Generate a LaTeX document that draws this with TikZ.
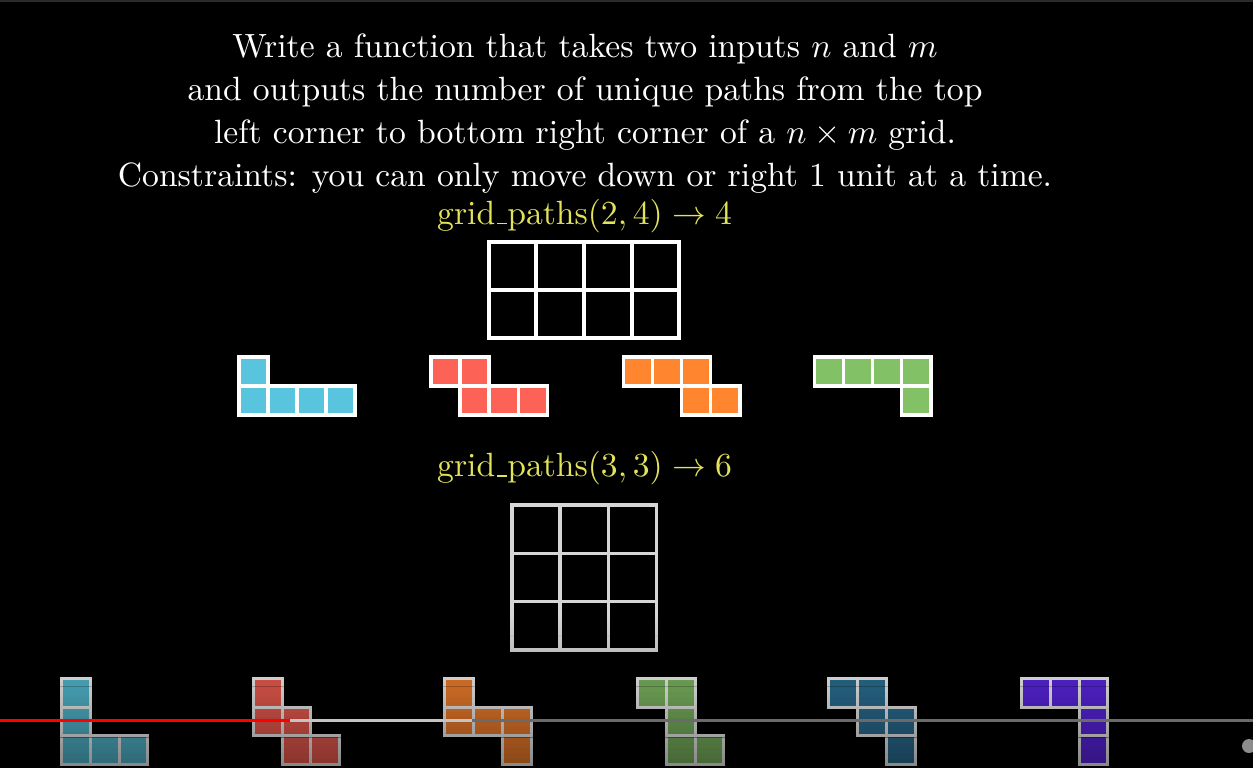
\documentclass[tikz,border=0pt]{standalone}
\usepackage{amsmath}
\definecolor{ylw}{HTML}{E3E35B}
\definecolor{cblue}{HTML}{58C4DD}
\definecolor{cred}{HTML}{FC6255}
\definecolor{corange}{HTML}{FF862F}
\definecolor{cgreen}{HTML}{83C167}
\definecolor{cdblue}{HTML}{2E769C}
\definecolor{cpurple}{HTML}{6028F0}
\definecolor{topbar}{HTML}{2B2B2B}
\definecolor{gridgray}{HTML}{D6D6D6}
\definecolor{barlight}{HTML}{C4C4C4}
\definecolor{bardark}{HTML}{6A6A6A}
\definecolor{barred}{HTML}{FF0000}
\definecolor{dotgray}{HTML}{8C8C8C}
\newcommand{\drawcells}[6]{%
  \foreach \i/\j in {#5}{\draw[#6, fill=#4] ({#1+\i*#3},{#2+\j*#3}) rectangle ++(#3,#3);}}
\newcommand{\usc}{\leavevmode\kern.06em\vbox{\hrule width.3em}}
\tikzset{
  titletext/.style={text=white, scale=3.364, inner sep=0pt, anchor=base},
  ytext/.style={text=ylw, scale=3.364, inner sep=0pt, anchor=base},
  gridw/.style={draw=white, line width=4pt},
  gridg/.style={draw=gridgray, line width=3.5pt},
  cellm/.style={draw=white, line width=3.5pt},
  cellb/.style={draw=white, line width=3pt},
  barline/.style={line width=3pt},
}
\begin{document}
\begin{tikzpicture}[x=1pt,y=-1pt]
\useasboundingbox (0,0) rectangle (1253,768);
\fill[black] (0,0) rectangle (1253,768);
\fill[topbar] (0,0) rectangle (1253,2);
% title
\node[titletext] (t1) at (585,57.3) {Write a function that takes two inputs $n$ and $m$};
\node[titletext] (t2) at (585,100.7) {and outputs the number of unique paths from the top};
\node[titletext] (t3) at (585,143.3) {left corner to bottom right corner of a $n\times m$ grid.};
\node[titletext] (t4) at (585,186.7) {Constraints: you can only move down or right 1 unit at a time.};
% first example
\node[ytext] (g1) at (584.5,224.3) {$\text{grid\usc paths}(2,4)\rightarrow 4$};
\foreach \i in {0,...,3}{\foreach \j in {0,1}{
  \draw[gridw] ({488.7+\i*47.6},{242+\j*48}) rectangle ++(47.6,48);}}
\drawcells{238.75}{356.75}{29.1}{cblue}{0/0,0/1,1/1,2/1,3/1}{cellm}
\drawcells{431}{356.75}{29.1}{cred}{0/0,1/0,1/1,2/1,3/1}{cellm}
\drawcells{623.4}{356.75}{29.1}{corange}{0/0,1/0,2/0,2/1,3/1}{cellm}
\drawcells{814.4}{356.75}{29.1}{cgreen}{0/0,1/0,2/0,3/0,3/1}{cellm}
% second example
\node[ytext] (g2) at (584.5,476.7) {$\text{grid\usc paths}(3,3)\rightarrow 6$};
\foreach \i in {0,...,2}{\foreach \j in {0,...,2}{
  \draw[gridg] ({511.75+\i*48.25},{505+\j*48.3}) rectangle ++(48.25,48.3);}}
\drawcells{61.5}{678.2}{28.8}{cblue}{0/0,0/1,0/2,1/2,2/2}{cellb}
\drawcells{253.2}{678.2}{28.8}{cred}{0/0,0/1,1/1,1/2,2/2}{cellb}
\drawcells{444.8}{678.2}{28.8}{corange}{0/0,0/1,1/1,2/1,2/2}{cellb}
\drawcells{637.5}{678.2}{28.8}{cgreen}{0/0,1/0,1/1,1/2,2/2}{cellb}
\drawcells{828.8}{678.2}{28.8}{cdblue}{0/0,1/0,1/1,2/1,2/2}{cellb}
\drawcells{1021.5}{678.2}{28.8}{cpurple}{0/0,1/0,2/0,2/1,2/2}{cellb}
% darkening toward the bottom
\foreach \k in {0,...,29}{
  \pgfmathsetmacro\yy{615+\k*5.1}
  \pgfmathsetmacro\op{0.47*(\k+0.5)/30}
  \fill[black, fill opacity=\op] (0,\yy) rectangle (1253,{\yy+5.2});}
% progress bar
\coordinate (p0) at (0,720);
\coordinate (p1) at (290,720);
\coordinate (p2) at (472,720);
\coordinate (p3) at (1253,720);
\draw[barline, bardark] (p2) -- (p3);
\draw[barline, barlight] (p1) -- (p2);
\draw[barline, barred] (p0) -- (p1);
\fill[dotgray] (1249,746) circle (7);
\end{tikzpicture}
\end{document}
